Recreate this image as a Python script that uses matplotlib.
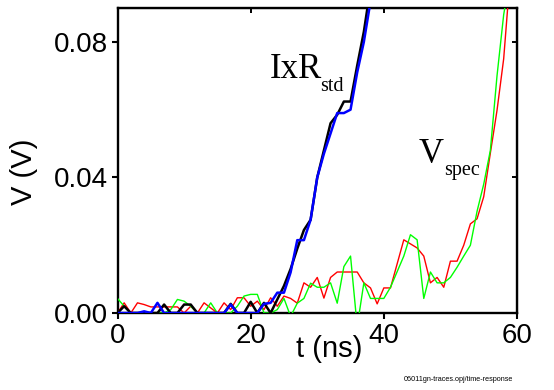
## time response traces: IxR_std and V_spec vs time
import numpy as np
import matplotlib
matplotlib.use('Agg')
import matplotlib.pyplot as plt
from matplotlib.ticker import FormatStrFormatter

matplotlib.rcParams.update({'font.family': 'Liberation Sans', 'font.size': 20})

# time axis (ns), 1 ns sampling
t_ref = np.arange(0, 39)
t_spec = np.arange(0, 60)

# IxR_std, black trace (V)
v_black = [0.0, 0.002, 0.0, 0.0, 0.0, 0.0, 0.0, 0.0025, 0.0, 0.0,
           0.0025, 0.0025, 0.0, 0.0, 0.0, 0.0, 0.0, 0.0027, 0.0, 0.0,
           0.0033, 0.0, 0.003, 0.0, 0.004, 0.008, 0.013, 0.019, 0.0245, 0.0275,
           0.040, 0.048, 0.056, 0.0585, 0.0624, 0.0624, 0.073, 0.083, 0.096]
# IxR_std, blue trace (V)
v_blue = [0.0, 0.0, 0.0, 0.0, 0.0005, 0.0, 0.003, 0.0, 0.0, 0.0,
          0.0, 0.0, 0.0, 0.0, 0.0, 0.0, 0.0, 0.0025, 0.0, 0.0,
          0.0, 0.0, 0.0027, 0.003, 0.006, 0.006, 0.012, 0.0215, 0.0215, 0.0275,
          0.040, 0.047, 0.053, 0.059, 0.059, 0.060, 0.071, 0.080, 0.092]
# V_spec, red trace (V)
v_red = [0.0, 0.003, 0.0, 0.003, 0.0025, 0.0018, 0.0018, 0.0018, 0.0018, 0.0018,
         0.0, 0.002, 0.0, 0.003, 0.0015, 0.0, 0.003, 0.001, 0.0045, 0.0045,
         0.002, 0.0035, 0.001, 0.0045, 0.002, 0.005, 0.0043, 0.0029, 0.0089, 0.0076,
         0.0105, 0.0044, 0.0105, 0.0121, 0.0121, 0.0121, 0.0121, 0.0089, 0.0074, 0.0027,
         0.0074, 0.0074, 0.0145, 0.0216, 0.0204, 0.0192, 0.0168, 0.0089, 0.0105, 0.0076,
         0.0153, 0.0153, 0.020, 0.0263, 0.0278, 0.0343, 0.0472, 0.0598, 0.075, 0.100]
# V_spec, green trace (V)
v_green = [0.0043, 0.002, 0.0, 0.0, 0.0, 0.0, 0.0, 0.0, 0.001, 0.004,
           0.0035, 0.002, 0.0, 0.0, 0.003, 0.0, 0.0, 0.0, 0.002, 0.005,
           0.0055, 0.0055, 0.0, 0.0, 0.001, 0.0043, -0.001, 0.0029, 0.0043, 0.0088,
           0.0076, 0.0076, 0.0089, 0.0029, 0.0137, 0.0168, -0.004, 0.0089, 0.0043, 0.0043,
           0.0043, 0.0076, 0.0122, 0.0168, 0.0231, 0.0216, 0.0043, 0.0121, 0.0089, 0.0089,
           0.0105, 0.0135, 0.0168, 0.020, 0.030, 0.038, 0.048, 0.070, 0.088, 0.100]

fig = plt.figure(figsize=(5.54, 3.90), dpi=100)
ax = fig.add_axes([0.2121, 0.1974, 0.7211, 0.7821])

ax.plot(t_spec, v_red, c='#ff0000', lw=1.0, zorder=3)
ax.plot(t_spec, v_green, c='#00ff00', lw=1.0, zorder=4)
ax.plot(t_ref, v_black, c='black', lw=1.8, zorder=5)
ax.plot(t_ref, v_blue, c='#0000ff', lw=1.8, zorder=6)

ax.set_xlim(0, 60)
ax.set_ylim(0, 0.09)
ax.set_xticks([0, 20, 40, 60])
ax.set_yticks([0.0, 0.04, 0.08])
ax.yaxis.set_major_formatter(FormatStrFormatter('%.2f'))
for s in ax.spines.values():
    s.set_linewidth(1.7)
ax.tick_params(axis='both', which='major', direction='out', length=4.5, width=1.5,
               labelsize=20)
ax.tick_params(axis='x', pad=2.5)
ax.tick_params(axis='y', pad=2.5)
# inward ticks on top and right
sx = ax.secondary_xaxis('top')
sx.set_xticks([0, 20, 40, 60])
sx.tick_params(direction='in', length=3.5, width=1.4, labeltop=False)
sy = ax.secondary_yaxis('right')
sy.set_yticks([0.0, 0.04, 0.08])
sy.tick_params(direction='in', length=3.5, width=1.4, labelright=False)

ax.set_xlabel('t (ns)', fontsize=21)
ax.set_ylabel('V (V)', fontsize=21)
ax.xaxis.set_label_coords(0.53, -0.072)
ax.yaxis.set_label_coords(-0.199, 0.462)

serif = 'Liberation Serif'
ax.text(22.9, 0.0694, 'IxR', family=serif, fontsize=25, va='baseline', ha='left')
ax.text(30.4, 0.0655, 'std', family=serif, fontsize=14.5, va='baseline', ha='left')
ax.text(45.3, 0.0443, 'V', family=serif, fontsize=25, va='baseline', ha='left')
ax.text(49.0, 0.0407, 'spec', family=serif, fontsize=14.5, va='baseline', ha='left')

fig.text(0.927, 0.018, '06011gn-traces.opj/time-response', fontsize=5.2, ha='right', va='bottom')

fig.savefig('out.png', dpi=100)
